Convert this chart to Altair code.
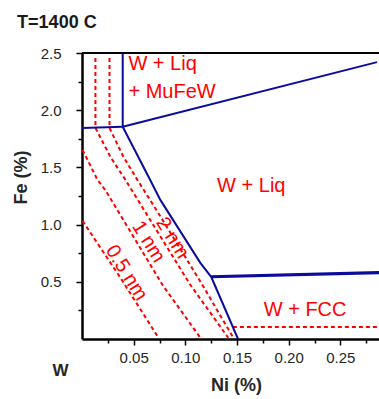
import altair as alt
import pandas as pd

# ---- data (Ni %, Fe %) ----
blue_vert_ni = [0.0394, 0.0394]
blue_vert_fe = [2.50, 1.855]
blue_left_ni = [0.0, 0.0394]
blue_left_fe = [1.845, 1.855]
blue_upper_ni = [0.0394, 0.2855]
blue_upper_fe = [1.855, 2.42]
blue_liq_ni = [0.0394, 0.066, 0.0758, 0.1145, 0.125]
blue_liq_fe = [1.855, 1.39, 1.216, 0.666, 0.544]
blue_fcc_ni = [0.125, 0.151]
blue_fcc_fe = [0.544, 0.0]
blue_thick_ni = [0.125, 0.2874]
blue_thick_fe = [0.544, 0.58]

red_fcc_ni = [0.146, 0.2874]
red_fcc_fe = [0.105, 0.105]
red_a_ni = [0.0005, 0.0372, 0.0739]      # 0.5 nm
red_a_fe = [1.033, 0.535, 0.011]
red_b_ni = [0.0005, 0.015, 0.0227, 0.0778, 0.1145]   # 1 nm
red_b_fe = [1.653, 1.391, 1.30, 0.474, 0.011]
red_c_ni = [0.013, 0.013, 0.0275, 0.042, 0.1048, 0.1415]   # 2 nm
red_c_fe = [2.456, 1.845, 1.592, 1.391, 0.474, 0.011]
red_d_ni = [0.0266, 0.0266, 0.0401, 0.0536, 0.072, 0.1164, 0.1464]
red_d_fe = [2.456, 1.845, 1.592, 1.391, 1.128, 0.474, 0.011]

label_text = ["W + Liq", "+ MuFeW", "W + Liq", "W + FCC"]
label_ni = [0.0449, 0.0449, 0.1638, 0.2159]
label_fe = [2.404, 2.159, 1.339, 0.255]
label_align = ["left", "left", "center", "center"]

nm_text = ["2 nm", "1 nm", "0.5 nm"]
nm_ni = [0.0874, 0.0643, 0.043]
nm_fe = [0.884, 0.85, 0.579]

x_major = [0.05, 0.10, 0.15, 0.20, 0.25]
x_minor = [0.025, 0.075, 0.125, 0.175, 0.225, 0.275]
y_major = [0.5, 1.0, 1.5, 2.0, 2.5]
y_minor = [0.25, 0.75, 1.25, 1.75, 2.25]

X_MAX = 0.2874
BLUE = "#0b0b9c"
RED = "#ff0000"
FONT = "Liberation Sans"
AX_TEXT = "#262626"


def lines(groups):
    rows = []
    for name, xs, ys in groups:
        for i, (a, b) in enumerate(zip(xs, ys)):
            rows.append({"series": name, "order": i, "ni": a, "fe": b})
    return pd.DataFrame(rows)


xscale = alt.Scale(domain=[0, X_MAX], nice=False, zero=False)
yscale = alt.Scale(domain=[0, 2.5], nice=False, zero=False)

x_axis = alt.Axis(
    orient="bottom", values=x_major, format=".2f",
    grid=False, domainColor="black", domainWidth=2.5, tickColor="black",
    tickWidth=1.5, tickSize=6, labelFont=FONT, labelFontSize=15, labelColor=AX_TEXT,
    labelPadding=5, title="Ni (%)", titleFont=FONT, titleFontSize=18,
    titleFontWeight="bold", titleColor=AX_TEXT, titleX=154, titleY=51,
    titleBaseline="alphabetic", titleAlign="center",
)
y_axis = alt.Axis(
    orient="left", values=y_major, format=".1f",
    grid=False, domainColor="black", domainWidth=2.5, tickColor="black",
    tickWidth=1.5, tickSize=6, labelFont=FONT, labelFontSize=15, labelColor=AX_TEXT,
    labelPadding=15, title="Fe (%)", titleFont=FONT, titleFontSize=18,
    titleFontWeight="bold", titleColor=AX_TEXT, titleAngle=270, titleX=-56,
    titleY=124, titleBaseline="alphabetic", titleAlign="center",
)
x_axis_minor = alt.Axis(
    orient="bottom", values=x_minor, labels=False, domain=False, grid=False,
    tickColor="black", tickWidth=1.5, tickSize=4, title=None,
)
y_axis_minor = alt.Axis(
    orient="left", values=y_minor, labels=False, domain=False, grid=False,
    tickColor="black", tickWidth=1.5, tickSize=4, title=None,
)


def enc(xa, ya):
    return dict(
        x=alt.X("ni:Q", scale=xscale, axis=xa),
        y=alt.Y("fe:Q", scale=yscale, axis=ya),
        detail="series:N",
        order="order:Q",
    )


red_df = lines([
    ("fcc", red_fcc_ni, red_fcc_fe),
    ("a", red_a_ni, red_a_fe),
    ("b", red_b_ni, red_b_fe),
    ("c", red_c_ni, red_c_fe),
    ("d", red_d_ni, red_d_fe),
])
red = alt.Chart(red_df).mark_line(color=RED, strokeWidth=2, strokeDash=[4, 3]).encode(
    **enc(x_axis, y_axis))

blue_df = lines([
    ("v", blue_vert_ni, blue_vert_fe),
    ("l", blue_left_ni, blue_left_fe),
    ("u", blue_upper_ni, blue_upper_fe),
    ("q", blue_liq_ni, blue_liq_fe),
    ("f", blue_fcc_ni, blue_fcc_fe),
])
blue = alt.Chart(blue_df).mark_line(color=BLUE, strokeWidth=2).encode(
    **enc(x_axis_minor, y_axis_minor))

thick = alt.Chart(lines([("t", blue_thick_ni, blue_thick_fe)])).mark_line(
    color=BLUE, strokeWidth=3.2).encode(**enc(None, None))

top = alt.Chart(pd.DataFrame({"fe": [2.5]})).mark_rule(color="black", strokeWidth=2).encode(
    y=alt.Y("fe:Q", scale=yscale, axis=None))

XN = alt.X("ni:Q", scale=xscale, axis=None)
YN = alt.Y("fe:Q", scale=yscale, axis=None)

lab_df = pd.DataFrame({"t": label_text, "ni": label_ni, "fe": label_fe, "al": label_align})
labels_left = alt.Chart(lab_df[lab_df.al == "left"]).mark_text(
    align="left", baseline="middle", font=FONT, fontSize=20, color=RED
).encode(x=XN, y=YN, text="t:N")
labels_center = alt.Chart(lab_df[lab_df.al == "center"]).mark_text(
    align="center", baseline="middle", font=FONT, fontSize=20, color=RED
).encode(x=XN, y=YN, text="t:N")

nm_df = pd.DataFrame({"t": nm_text, "ni": nm_ni, "fe": nm_fe})
nm = alt.Chart(nm_df).mark_text(
    align="center", baseline="middle", font=FONT, fontSize=20, color=RED, angle=58
).encode(x=XN, y=YN, text="t:N")

w_df = pd.DataFrame({"t": ["W"], "ni": [-0.0208], "fe": [-0.277]})
w = alt.Chart(w_df).mark_text(
    align="center", baseline="middle", font=FONT, fontSize=17, fontWeight="bold", color=AX_TEXT
).encode(x=XN, y=YN, text="t:N")

title_df = pd.DataFrame({"t": ["T=1400 C"], "ni": [-0.0628], "fe": [2.719]})
title = alt.Chart(title_df).mark_text(
    align="left", baseline="alphabetic", font=FONT, fontSize=18, fontWeight="bold", color="#1a1a1a"
).encode(x=XN, y=YN, text="t:N")

chart = alt.layer(red, blue, thick, top, labels_left, labels_center, nm, w, title).resolve_axis(
    x="independent", y="independent"
).properties(
    width=297, height=286,
    autosize=alt.AutoSizeParams(type="none"),
    padding={"left": 82, "top": 53, "right": 0, "bottom": 60},
    background="white",
).configure_view(stroke=None)

chart.save("out.html", embed_options={"renderer": "svg", "actions": False})
